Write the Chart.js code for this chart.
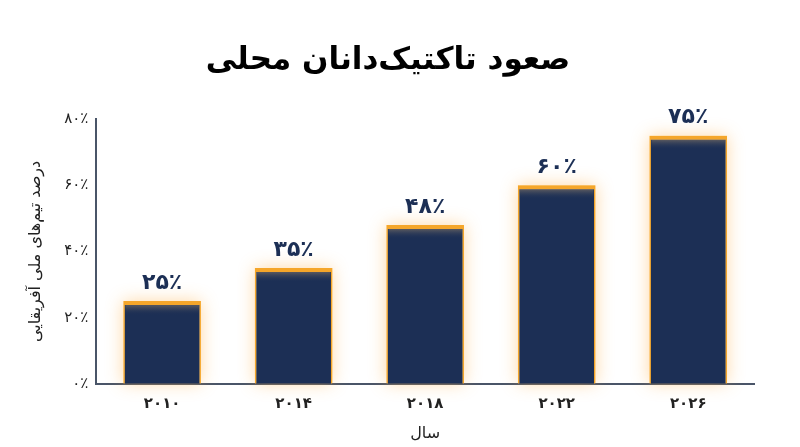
<!DOCTYPE html>
<html lang="fa" dir="rtl">
<head>
<meta charset="utf-8">
<script src="https://cdn.jsdelivr.net/npm/chart.js@4.4.1/dist/chart.umd.min.js"></script>
<style>
    html, body { margin: 0; padding: 0; background: #ffffff; }
    #wrap { width: 800px; height: 447px; position: relative; }
</style>
</head>
<body>
<div id="wrap"><canvas id="growthChart"></canvas></div>
<script>
// Chart data
const years = ['۲۰۱۰', '۲۰۱۴', '۲۰۱۸', '۲۰۲۲', '۲۰۲۶'];
const shares = [25, 35, 48, 60, 75];
const shareLabels = ['۲۵٪', '۳۵٪', '۴۸٪', '۶۰٪', '۷۵٪'];
const yTickLabels = { 0: '۰٪', 20: '۲۰٪', 40: '۴۰٪', 60: '۶۰٪', 80: '۸۰٪' };

const fontFamily = '"DejaVu Sans", sans-serif';
const navy = '#1c2f55';
const amber = '#f5a62a';

// Orange glow around the bars, painted before the bars themselves
const glowPlugin = {
    id: 'glow',
    beforeDatasetsDraw(chart) {
        const ctx = chart.ctx;
        const meta = chart.getDatasetMeta(0);
        ctx.save();
        ctx.shadowColor = 'rgba(255, 170, 60, 0.45)';
        ctx.shadowBlur = 16;
        ctx.fillStyle = 'rgba(255, 215, 150, 1)';
        meta.data.forEach(bar => {
            const left = bar.x - bar.width / 2;
            ctx.fillRect(left, bar.y, bar.width, bar.base - bar.y - 1);
        });
        ctx.restore();
    },
    afterDatasetsDraw(chart) {
        // soft light band just under the orange top edge
        const ctx = chart.ctx;
        const meta = chart.getDatasetMeta(0);
        ctx.save();
        meta.data.forEach(bar => {
            const left = bar.x - bar.width / 2 + 2;
            const w = bar.width - 4;
            const top = bar.y + 4;
            const g = ctx.createLinearGradient(0, top, 0, top + 10);
            g.addColorStop(0, 'rgba(235, 190, 120, 0.3)');
            g.addColorStop(1, 'rgba(28, 47, 85, 0)');
            ctx.fillStyle = g;
            ctx.fillRect(left, top, w, 10);
        });
        ctx.restore();
    }
};

// Value labels above each bar
const valueLabelPlugin = {
    id: 'valueLabels',
    afterDatasetsDraw(chart) {
        const ctx = chart.ctx;
        const meta = chart.getDatasetMeta(0);
        ctx.save();
        ctx.font = 'bold 22px ' + fontFamily;
        ctx.fillStyle = navy;
        ctx.textAlign = 'center';
        ctx.textBaseline = 'bottom';
        meta.data.forEach((bar, i) => {
            ctx.fillText(shareLabels[i], bar.x, bar.y - 7);
        });
        ctx.restore();
    }
};

const ctx = document.getElementById('growthChart').getContext('2d');

new Chart(ctx, {
    type: 'bar',
    data: {
        labels: years,
        datasets: [{
            data: shares,
            backgroundColor: navy,
            borderColor: amber,
            borderWidth: { top: 4, left: 1.5, right: 1.5, bottom: 0 },
            borderSkipped: 'bottom',
            categoryPercentage: 1,
            barPercentage: 0.59
        }]
    },
    options: {
        responsive: true,
        maintainAspectRatio: false,
        animation: false,
        layout: {
            padding: { top: 10, right: 46, bottom: 2, left: 22 }
        },
        scales: {
            x: {
                grid: { display: false, drawTicks: false },
                border: { color: '#4a5568', width: 2 },
                ticks: {
                    color: '#222222',
                    padding: 11,
                    font: { family: fontFamily, size: 15, weight: 'bold' }
                },
                title: {
                    display: true,
                    text: 'سال',
                    color: '#222222',
                    padding: { top: 0, bottom: 2 },
                    font: { family: fontFamily, size: 16 }
                }
            },
            y: {
                min: 0,
                max: 80,
                grid: { display: false, drawTicks: false },
                border: { color: '#4a5568', width: 2 },
                ticks: {
                    stepSize: 20,
                    color: '#222222',
                    padding: 8,
                    font: { family: fontFamily, size: 15 },
                    callback: function (value) {
                        return yTickLabels[value];
                    }
                },
                title: {
                    display: true,
                    text: 'درصد تیم‌های ملی آفریقایی',
                    color: '#222222',
                    padding: { bottom: 11 },
                    font: { family: fontFamily, size: 16 }
                }
            }
        },
        plugins: {
            legend: { display: false },
            tooltip: { enabled: false },
            title: {
                display: true,
                text: 'صعود تاکتیک‌دانان محلی',
                color: '#000000',
                padding: { top: 32, bottom: 40 },
                font: { family: fontFamily, size: 31, weight: 'bold' }
            }
        }
    },
    plugins: [glowPlugin, valueLabelPlugin]
});
</script>
</body>
</html>
